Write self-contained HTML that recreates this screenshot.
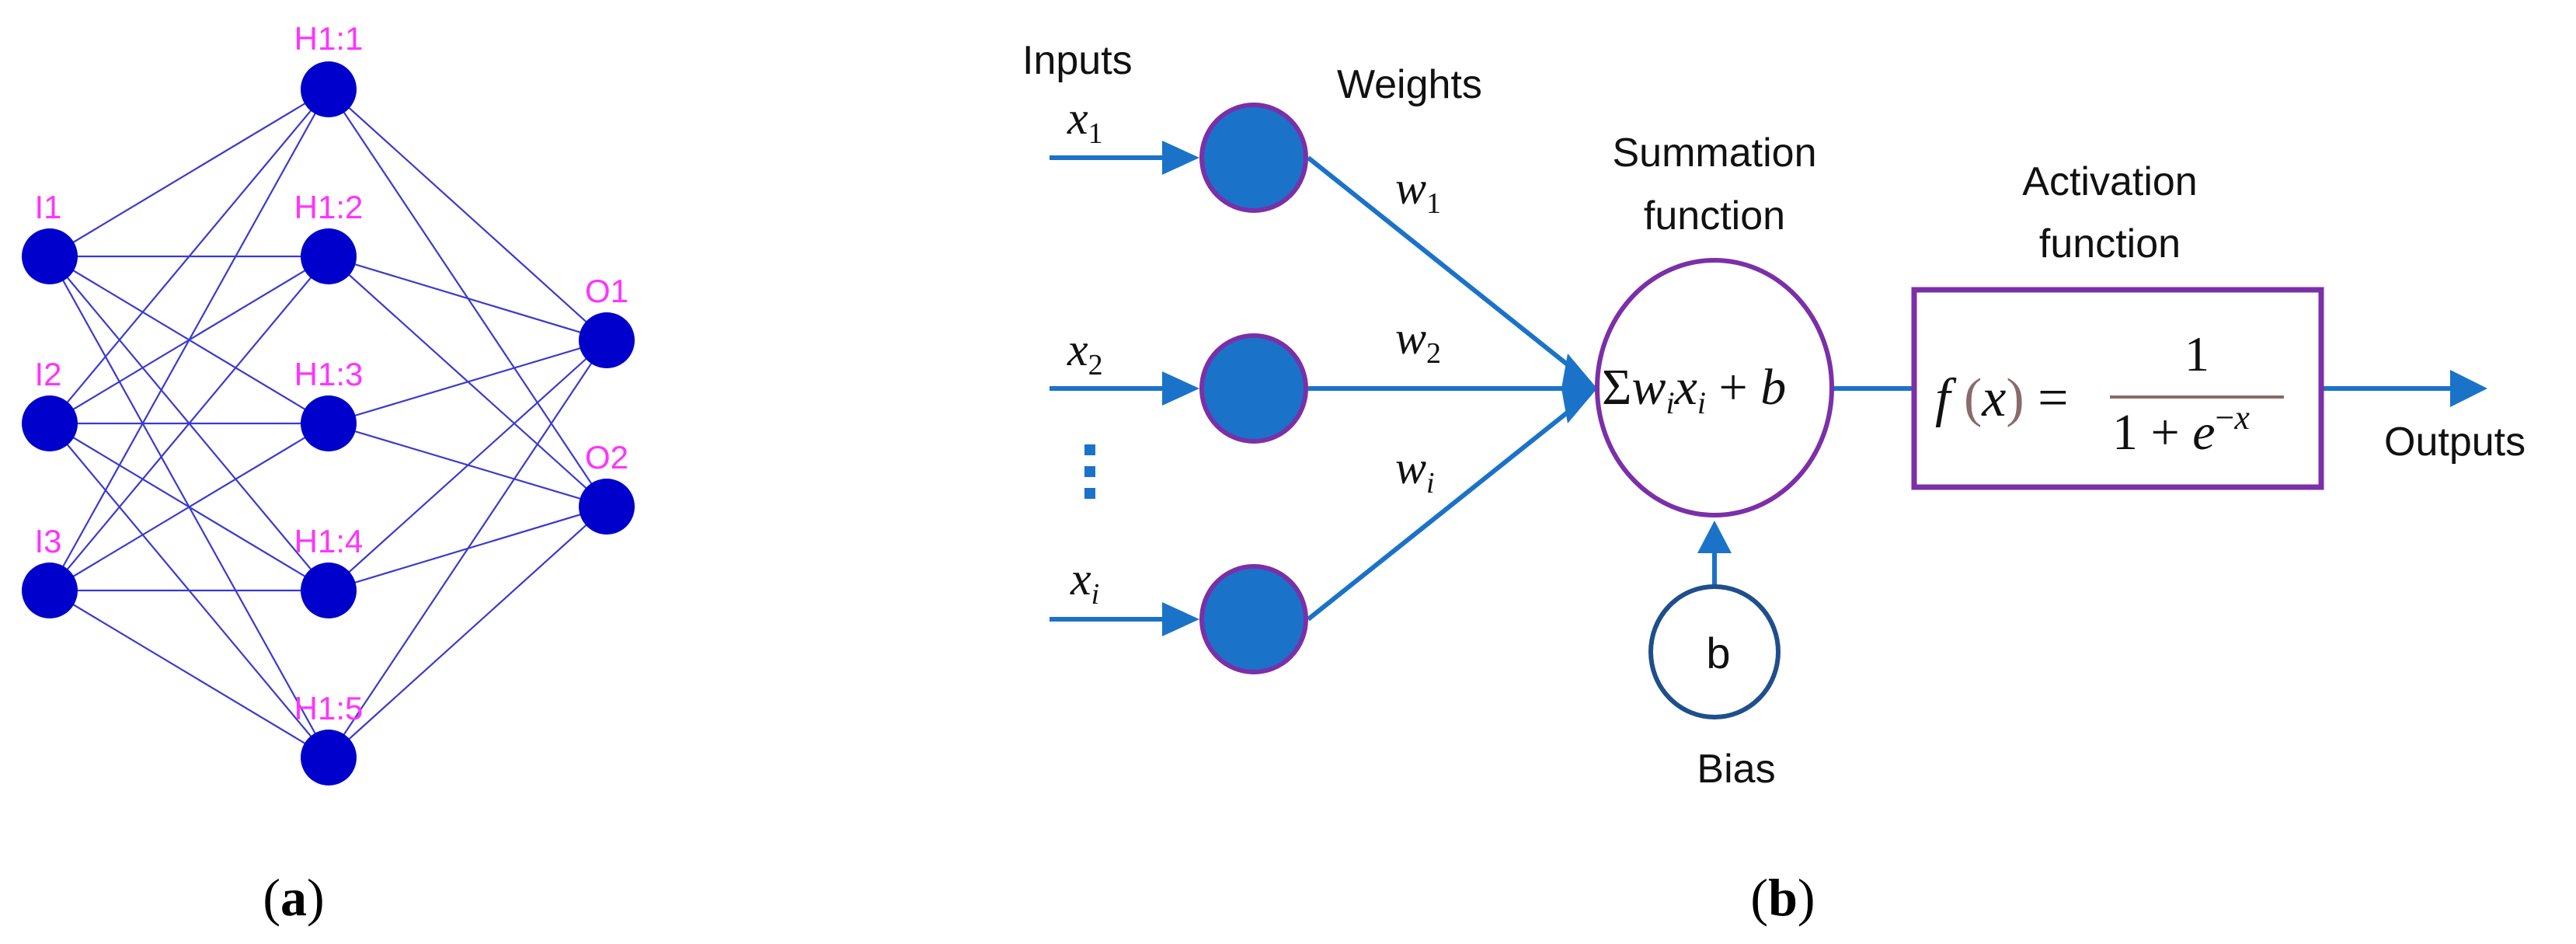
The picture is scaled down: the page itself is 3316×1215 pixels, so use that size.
<!DOCTYPE html>
<html><head><meta charset="utf-8"><style>html,body{margin:0;padding:0;background:#fff}svg{display:block}</style></head>
<body>
<svg width="3316" height="1215" viewBox="0 0 3316 1215" xmlns="http://www.w3.org/2000/svg">
<g stroke="#3a3ad0" stroke-width="2.2">
<line x1="64" y1="330" x2="423" y2="115"/><line x1="64" y1="330" x2="423" y2="330"/><line x1="64" y1="330" x2="423" y2="545"/><line x1="64" y1="330" x2="423" y2="760"/><line x1="64" y1="330" x2="423" y2="975"/>
<line x1="64" y1="545" x2="423" y2="115"/><line x1="64" y1="545" x2="423" y2="330"/><line x1="64" y1="545" x2="423" y2="545"/><line x1="64" y1="545" x2="423" y2="760"/><line x1="64" y1="545" x2="423" y2="975"/>
<line x1="64" y1="760" x2="423" y2="115"/><line x1="64" y1="760" x2="423" y2="330"/><line x1="64" y1="760" x2="423" y2="545"/><line x1="64" y1="760" x2="423" y2="760"/><line x1="64" y1="760" x2="423" y2="975"/>
<line x1="423" y1="115" x2="781" y2="438"/><line x1="423" y1="115" x2="781" y2="652"/>
<line x1="423" y1="330" x2="781" y2="438"/><line x1="423" y1="330" x2="781" y2="652"/>
<line x1="423" y1="545" x2="781" y2="438"/><line x1="423" y1="545" x2="781" y2="652"/>
<line x1="423" y1="760" x2="781" y2="438"/><line x1="423" y1="760" x2="781" y2="652"/>
<line x1="423" y1="975" x2="781" y2="438"/><line x1="423" y1="975" x2="781" y2="652"/>
</g>
<g fill="#0000cc">
<circle cx="64" cy="330" r="36"/><circle cx="64" cy="545" r="36"/><circle cx="64" cy="760" r="36"/>
<circle cx="423" cy="115" r="36"/><circle cx="423" cy="330" r="36"/><circle cx="423" cy="545" r="36"/><circle cx="423" cy="760" r="36"/><circle cx="423" cy="975" r="36"/>
<circle cx="781" cy="438" r="36"/><circle cx="781" cy="652" r="36"/>
</g>
<g fill="#ff33ff" font-family="Liberation Sans, sans-serif" font-size="42" text-anchor="middle">
<text x="62" y="281">I1</text><text x="62" y="496">I2</text><text x="62" y="711">I3</text>
<text x="423" y="64">H1:1</text><text x="423" y="281">H1:2</text><text x="423" y="496">H1:3</text><text x="423" y="711">H1:4</text><text x="423" y="926">H1:5</text>
<text x="781" y="389">O1</text><text x="781" y="603">O2</text>
</g>
<text x="378" y="1178" font-family="Liberation Serif, serif" font-size="68" text-anchor="middle">(<tspan font-weight="bold">a</tspan>)</text>
<text x="2295" y="1178" font-family="Liberation Serif, serif" font-size="68" text-anchor="middle">(<tspan font-weight="bold">b</tspan>)</text>

<g stroke="#1a73c8" stroke-width="6" fill="none">
<line x1="1351" y1="203" x2="1515" y2="203"/><line x1="1351" y1="500" x2="1515" y2="500"/><line x1="1351" y1="797" x2="1515" y2="797"/>
<line x1="1684" y1="203" x2="2025" y2="475"/><line x1="1684" y1="500" x2="2020" y2="500"/><line x1="1684" y1="797" x2="2025" y2="525"/>
<line x1="2207" y1="712" x2="2207" y2="754"/>
<line x1="2359" y1="500" x2="2464" y2="500"/>
<line x1="2988" y1="500" x2="3158" y2="500"/>
</g>
<g fill="#1a73c8">
<polygon points="1496,181 1544,203 1496,225"/>
<polygon points="1496,478 1544,500 1496,522"/>
<polygon points="1496,775 1544,797 1496,819"/>
<polygon points="2018,455 2056,500 2018,545 2010,500"/>
<polygon points="2185,712 2207,670 2229,712"/>
<polygon points="3154,476 3202,500 3154,524"/>
<rect x="1396" y="572" width="14" height="14"/><rect x="1396" y="600" width="14" height="14"/><rect x="1396" y="628" width="14" height="14"/>
</g>
<g fill="#1a73c8" stroke="#7b2fa8" stroke-width="6">
<ellipse cx="1614" cy="203" rx="67" ry="68"/>
<ellipse cx="1614" cy="500" rx="67" ry="68"/>
<ellipse cx="1614" cy="797" rx="67" ry="68"/>
</g>
<ellipse cx="2207" cy="499" rx="151" ry="164" fill="none" stroke="#7b2fa8" stroke-width="6"/>
<ellipse cx="2207" cy="839" rx="82" ry="84" fill="none" stroke="#1f4e8c" stroke-width="6"/>
<rect x="2464" y="373" width="524" height="254" fill="none" stroke="#7b2fa8" stroke-width="7"/>
<line x1="2716" y1="511" x2="2940" y2="511" stroke="#8a6a6a" stroke-width="4"/>

<g font-family="Liberation Sans, sans-serif" font-size="52" fill="#111">
<text x="1316" y="95">Inputs</text>
<text x="1721" y="126">Weights</text>
<text x="2207" y="214" text-anchor="middle">Summation</text>
<text x="2207" y="295" text-anchor="middle">function</text>
<text x="2716" y="251" text-anchor="middle">Activation</text>
<text x="2716" y="331" text-anchor="middle">function</text>
<text x="3069" y="586">Outputs</text>
<text x="2235" y="1007" text-anchor="middle">Bias</text>
<text x="2212" y="860" text-anchor="middle" font-size="56">b</text>
</g>
<g font-family="Liberation Serif, serif" font-size="60" fill="#111">
<text x="1374" y="172" font-style="italic">x<tspan font-style="normal" font-size="38" dy="12">1</tspan></text>
<text x="1374" y="470" font-style="italic">x<tspan font-style="normal" font-size="38" dy="12">2</tspan></text>
<text x="1378" y="765" font-style="italic">x<tspan font-size="38" dy="12">i</tspan></text>
<text x="1796" y="262" font-style="italic">w<tspan font-style="normal" font-size="38" dy="12">1</tspan></text>
<text x="1796" y="455" font-style="italic">w<tspan font-style="normal" font-size="38" dy="12">2</tspan></text>
<text x="1796" y="622" font-style="italic">w<tspan font-size="38" dy="12">i</tspan></text>
<text x="2062" y="520" font-size="66">Σ<tspan font-style="italic">w</tspan><tspan font-style="italic" font-size="40" dy="12">i</tspan><tspan font-style="italic" dy="-12">x</tspan><tspan font-style="italic" font-size="40" dy="12">i</tspan><tspan dy="-12"> + </tspan><tspan font-style="italic">b</tspan></text>
<text x="2491" y="535" font-size="70"><tspan font-style="italic">f</tspan><tspan fill="#8a6a6a"> (</tspan><tspan font-style="italic">x</tspan><tspan fill="#8a6a6a">)</tspan>  =</text>
<text x="2828" y="477" font-size="64" text-anchor="middle">1</text>
<text x="2719" y="578" font-size="66">1 + <tspan font-style="italic">e</tspan><tspan font-size="44" dy="-26">−<tspan font-style="italic">x</tspan></tspan></text>
</g>
</svg>
</body></html>
